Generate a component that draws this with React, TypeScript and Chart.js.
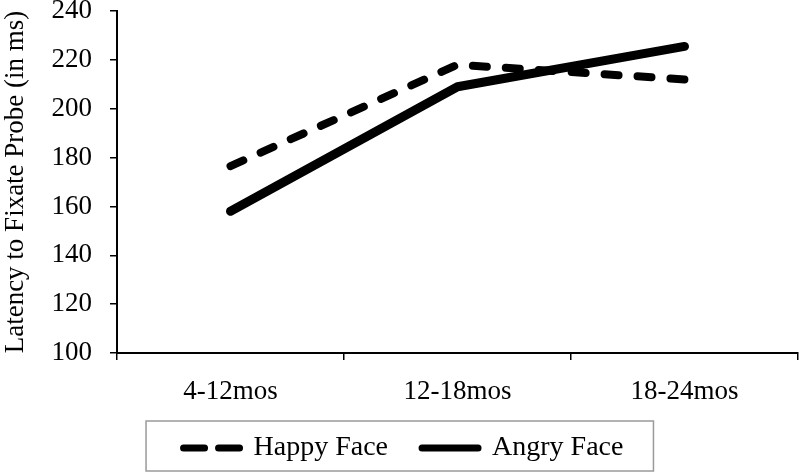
import React, { useEffect, useRef } from 'react';
import { Chart, registerables } from 'chart.js';

Chart.register(...registerables);

const categories = ['4-12mos', '12-18mos', '18-24mos'];
const happyFace = [176.5, 218, 212];
const angryFace = [158, 209, 225.5];
const seriesNames = ['Happy Face', 'Angry Face'];
const yTitle = 'Latency to Fixate Probe (in ms)';
const yMin = 100;
const yMax = 240;
const yStep = 20;

const FONT = "'Liberation Serif', 'Times New Roman', serif";

const legendBorder = {
  id: 'legendBorder',
  afterDraw(chart: any) {
    const lg = chart.legend;
    if (!lg || !lg.legendHitBoxes || !lg.legendHitBoxes.length) return;
    const boxes = lg.legendHitBoxes;
    const left = Math.min(...boxes.map((b: any) => b.left));
    const right = Math.max(...boxes.map((b: any) => b.left + b.width));
    const top = Math.min(...boxes.map((b: any) => b.top));
    const ctx = chart.ctx;
    ctx.save();
    ctx.strokeStyle = '#9a9a9a';
    ctx.lineWidth = 1.5;
    ctx.setLineDash([]);
    const x0 = left - 37.5;
    const x1 = right + 30;
    ctx.strokeRect(x0, top - 13, x1 - x0, 50);
    ctx.restore();
  },
};

export default function App() {
  const ref = useRef<HTMLCanvasElement | null>(null);

  useEffect(() => {
    if (!ref.current) return;
    const chart = new Chart(ref.current, {
      type: 'line',
      data: {
        labels: categories,
        datasets: [
          {
            label: seriesNames[0],
            data: happyFace,
            borderColor: '#000',
            backgroundColor: '#000',
            borderWidth: 8,
            borderDash: [14, 19],
            borderCapStyle: 'round',
            borderJoinStyle: 'round',
            pointRadius: 0,
            tension: 0,
            fill: false,
          },
          {
            label: seriesNames[1],
            data: angryFace,
            borderColor: '#000',
            backgroundColor: '#000',
            borderWidth: 9,
            borderCapStyle: 'round',
            borderJoinStyle: 'round',
            pointRadius: 0,
            tension: 0,
            fill: false,
          },
        ],
      },
      options: {
        animation: false,
        responsive: false,
        events: [],
        layout: { padding: { top: 11, right: 2, bottom: 0, left: 9 } },
        scales: {
          x: {
            type: 'category',
            offset: true,
            grid: {
              display: true,
              drawOnChartArea: false,
              drawTicks: true,
              tickLength: 7,
              color: '#000',
              lineWidth: 1.5,
              offset: true,
            },
            border: { display: true, color: '#000', width: 2 },
            ticks: {
              color: '#000',
              font: { family: FONT, size: 27 },
              padding: 16,
              maxRotation: 0,
            },
            afterFit: (s: any) => {
              s.height = 47;
            },
          },
          y: {
            min: yMin,
            max: yMax,
            grid: {
              drawOnChartArea: false,
              drawTicks: true,
              tickLength: 7,
              color: '#000',
              lineWidth: 1.5,
            },
            border: { display: true, color: '#000', width: 2 },
            ticks: {
              stepSize: yStep,
              color: '#000',
              font: { family: FONT, size: 27, lineHeight: 0.7 },
              padding: 18,
            },
            title: {
              display: true,
              text: yTitle,
              color: '#000',
              font: { family: FONT, size: 27, lineHeight: 0.5 },
              padding: 0,
            },
            afterFit: (s: any) => {
              s.width = 108;
              s.paddingTop = 0;
              s.paddingBottom = 0;
            },
          },
        },
        plugins: {
          tooltip: { enabled: false },
          legend: {
            position: 'bottom',
            align: 'center',
            labels: {
              usePointStyle: true,
              pointStyle: 'line',
              pointStyleWidth: 56,
              padding: 34,
              color: '#000',
              font: { family: FONT, size: 28 },
              generateLabels: (c: any) =>
                Chart.defaults.plugins.legend.labels
                  .generateLabels(c)
                  .map((it: any, i: number) => ({
                    ...it,
                    lineWidth: 7,
                    lineCap: 'round',
                    lineDash: i === 0 ? [21, 14] : [],
                    pointStyle: 'line',
                    strokeStyle: '#000',
                    fillStyle: '#000',
                  })),
            },
          },
        },
      },
      plugins: [legendBorder],
    } as any);
    return () => chart.destroy();
  }, []);

  return (
    <div style={{ position: 'fixed', left: 0, top: 0, width: 800, height: 472, background: '#fff' }}>
      <canvas ref={ref} width={800} height={472} style={{ display: 'block' }} />
    </div>
  );
}
